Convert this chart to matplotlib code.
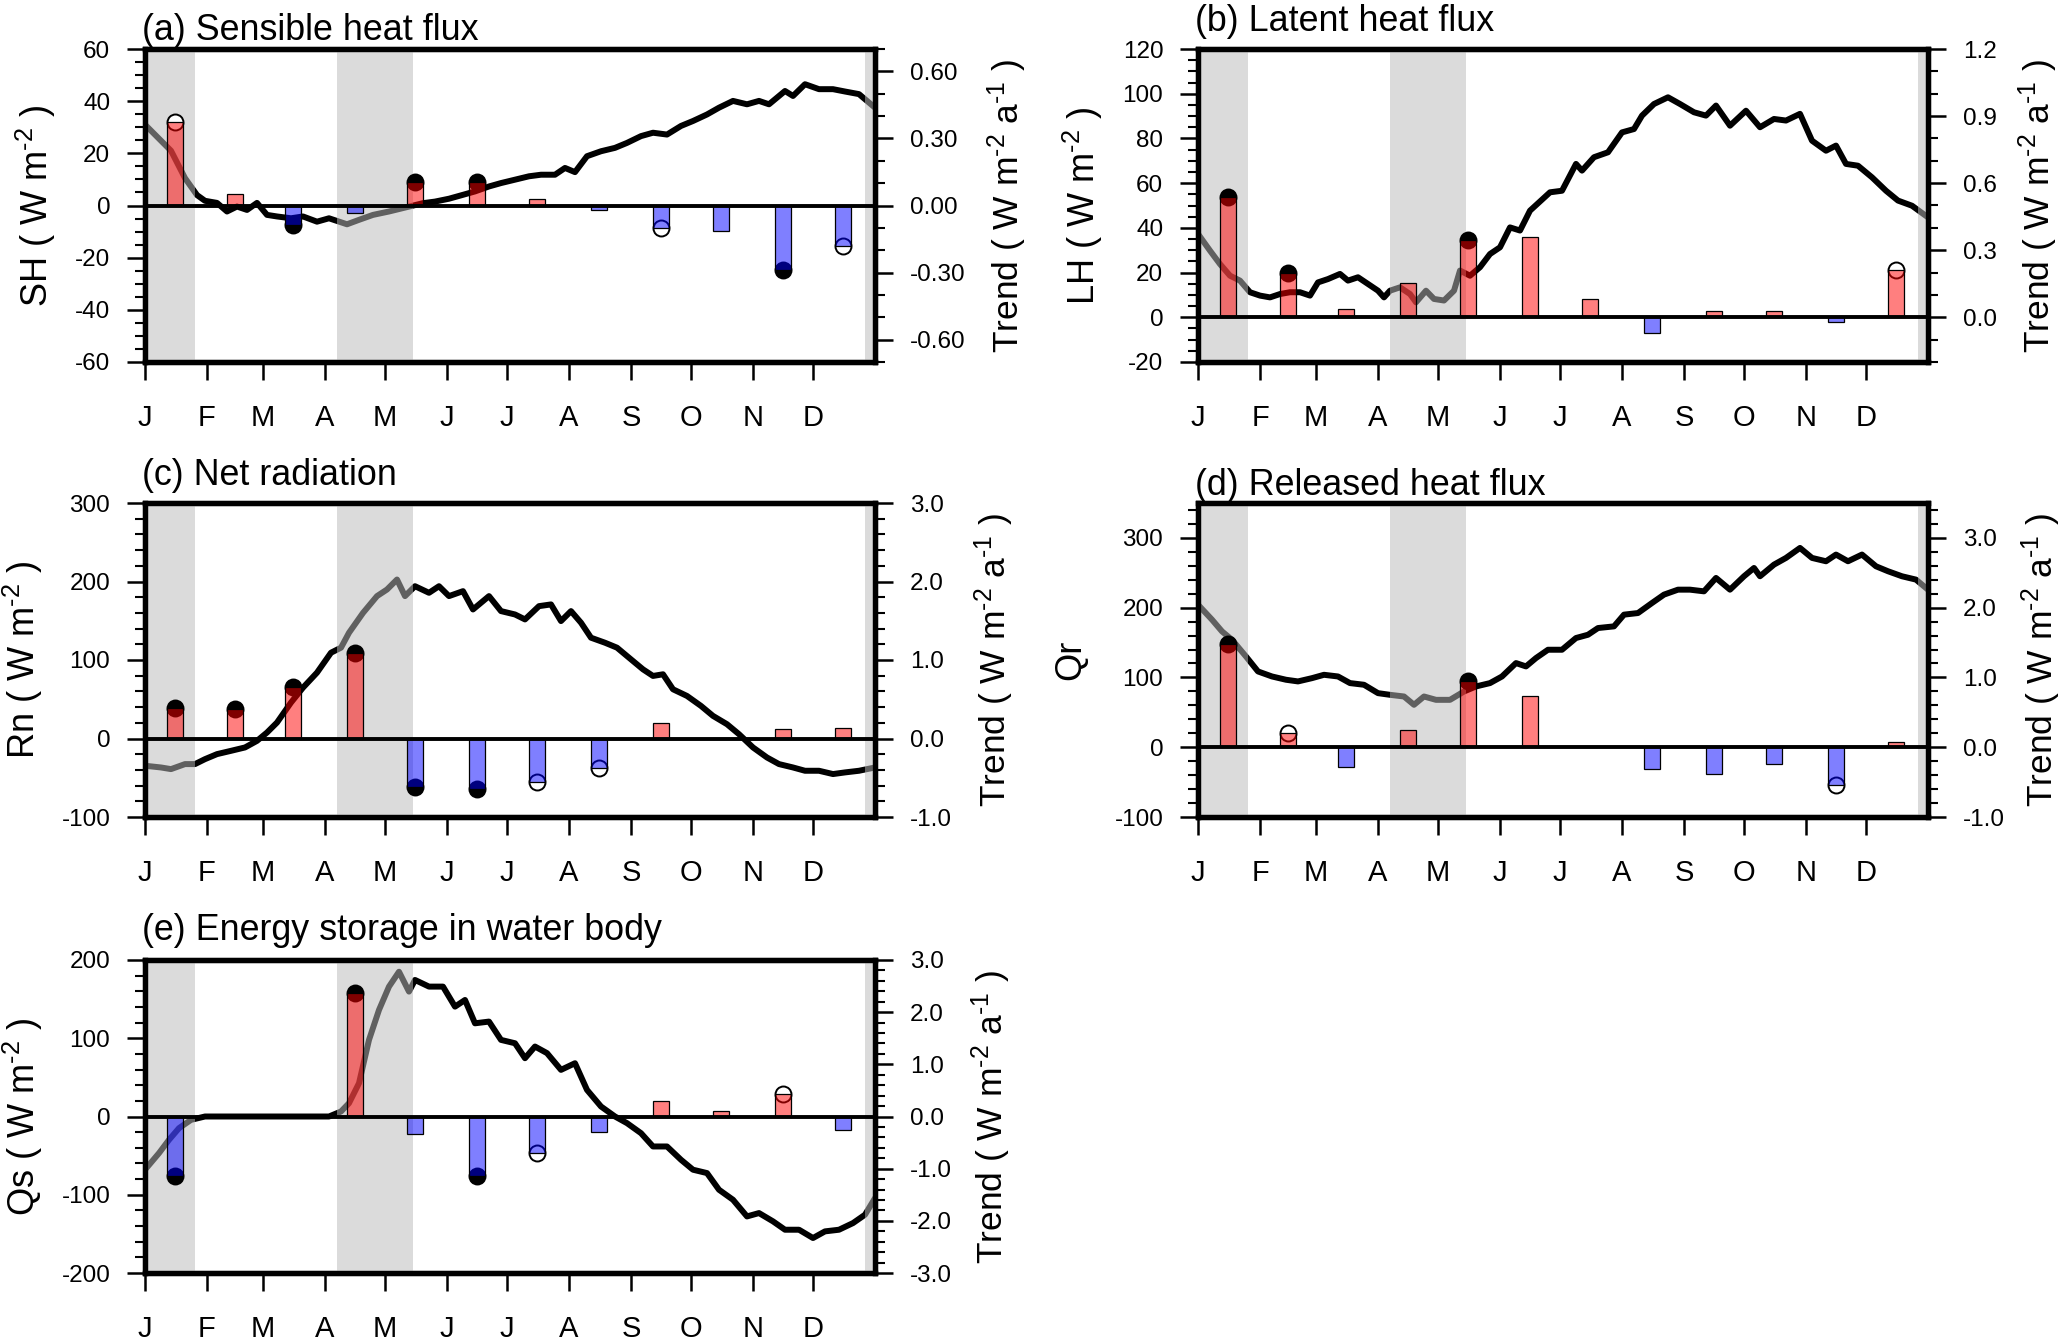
import numpy as np
import matplotlib
matplotlib.use('Agg')
import matplotlib.pyplot as plt
from matplotlib.ticker import MultipleLocator, FuncFormatter

plt.rcParams['font.family'] = ['Liberation Sans', 'DejaVu Sans']
plt.rcParams['mathtext.fontset'] = 'custom'
plt.rcParams['mathtext.rm'] = 'Liberation Sans'
plt.rcParams['mathtext.default'] = 'regular'
plt.rcParams['axes.unicode_minus'] = False

FIG_W, FIG_H = 2067, 1340

# x axis: months (day of year)
months = ['J', 'F', 'M', 'A', 'M', 'J', 'J', 'A', 'S', 'O', 'N', 'D']
month_start = [0, 31, 59, 90, 120, 151, 181, 212, 243, 273, 304, 334]
bar_day = [15, 45, 74, 105, 135, 166, 196, 227, 258, 288, 319, 349]

# shaded (ice) periods, day of year
shade_periods = [(0, 25), (96, 134), (360, 365)]

# (a) sensible heat flux: daily climatology (W m-2), monthly trend (W m-2 a-1)
sh_day = [0, 13, 20, 26, 30, 36, 41, 46, 51, 56, 61, 66, 73, 79, 86, 92, 101, 107, 114, 122,
          130, 139, 145, 152, 159, 165, 172, 178, 185, 192, 198, 205, 210, 215, 221, 228, 235,
          241, 248, 254, 261, 268, 274, 281, 287, 294, 301, 307, 312, 320, 324, 330, 337, 344,
          350, 357, 365]
sh_clim = [31, 21, 10.5, 4, 1.8, 1, -2.3, -0.4, -1.7, 1, -3.6, -4.2, -4.9, -4.2, -6.2, -4.9,
           -7.2, -5.5, -3.6, -2.3, -0.8, 0.9, 1.5, 2.6, 4.1, 5.4, 7.3, 8.6, 9.9, 11.2, 11.8, 11.8,
           14.4, 12.8, 18.9, 20.8, 22.1, 24, 26.6, 27.9, 27.2, 30.5, 32.4, 34.9, 37.5, 40.1, 38.8,
           40.1, 38.8, 43.9, 42, 46.5, 44.6, 44.6, 43.7, 42.7, 37.5]
sh_trend = [0.375, 0.05, -0.085, -0.035, 0.105, 0.105, 0.03, -0.02, -0.10, -0.115, -0.29, -0.18]
sh_sig = [1, 0, 2, 0, 2, 2, 0, 0, 1, 0, 2, 1]

# (b) latent heat flux
lh_day = [0, 6, 11, 16, 21, 26, 31, 36, 41, 46, 51, 56, 60, 65, 71, 75, 80, 85, 90, 93, 96,
          101, 106, 109, 114, 118, 123, 128, 131, 136, 141, 146, 151, 156, 161, 166, 176, 182,
          189, 192, 198, 205, 212, 218, 222, 228, 235, 241, 248, 254, 259, 266, 274, 281, 288,
          294, 301, 307, 314, 319, 324, 330, 337, 344, 350, 357, 365]
lh_clim = [37.3, 29.8, 23.8, 18.6, 16.4, 11.2, 9.7, 8.9, 10.4, 11.2, 11.2, 9.7, 15.6, 17.1,
           19.4, 16.4, 17.9, 14.9, 11.9, 8.9, 11.9, 13.4, 10.4, 6.7, 11.9, 8.2, 7.5, 11.9, 20.9,
           18.6, 22.4, 28.3, 31.3, 40.2, 38.8, 47.7, 55.9, 56.6, 68.6, 65.6, 71.6, 73.8, 82.7,
           84.2, 90.2, 95.4, 98.4, 95.4, 91.7, 90.2, 94.7, 85.7, 92.4, 85, 88.7, 88, 91, 79,
           74.5, 76.8, 68.6, 67.8, 62.6, 56.6, 52.2, 49.9, 44.7]
lh_trend = [0.54, 0.20, 0.035, 0.155, 0.345, 0.36, 0.08, -0.07, 0.03, 0.03, -0.02, 0.21]
lh_sig = [2, 2, 0, 0, 2, 0, 0, 0, 0, 0, 0, 1]

# (c) net radiation
rn_day = [0, 8, 13, 20, 25, 30, 36, 43, 50, 56, 61, 66, 73, 79, 86, 93, 98, 102, 109, 116,
          121, 126, 130, 135, 142, 147, 152, 159, 164, 172, 178, 185, 190, 197, 203, 208, 213,
          218, 223, 230, 236, 243, 249, 254, 259, 264, 271, 278, 284, 291, 297, 304, 311, 317,
          324, 330, 337, 344, 350, 357, 365]
rn_clim = [-34.7, -36.9, -39, -32.6, -32.6, -26.3, -19.9, -15.7, -11.4, -3, 7.6, 20.3, 45.8,
           64.8, 83.9, 109.3, 115.7, 134.7, 160, 181.4, 189.8, 202.5, 181.4, 194, 185.6, 194,
           181.4, 187.7, 164.4, 181.4, 162.3, 158, 151.7, 168.6, 170.8, 149.6, 162.3, 147.5,
           128.4, 122, 115.7, 100.8, 88.1, 79.7, 81.8, 62.7, 54.2, 41.5, 28.8, 18.2, 5.5, -11.4,
           -24.2, -32.6, -36.9, -41.1, -41.1, -45.3, -43.2, -41.1, -36.9]
rn_trend = [0.39, 0.38, 0.65, 1.09, -0.62, -0.64, -0.55, -0.37, 0.20, 0.01, 0.12, 0.13]
rn_sig = [2, 2, 2, 2, 2, 2, 1, 1, 0, 0, 0, 0]

# (d) released heat flux
qr_day = [0, 7, 12, 17, 24, 30, 37, 44, 50, 57, 63, 70, 76, 83, 90, 96, 103, 108, 113, 119,
          126, 133, 139, 146, 152, 159, 164, 169, 175, 182, 189, 195, 200, 208, 213, 220, 227,
          233, 240, 246, 253, 259, 266, 273, 278, 281, 288, 294, 301, 307, 314, 319, 325, 332,
          339, 345, 352, 359, 365]
qr_clim = [204.3, 182.8, 166, 154, 130, 108.6, 101.4, 96.7, 94.3, 99, 103.8, 101.4, 91.9, 89.5,
           77.5, 75.1, 72.7, 60.8, 72.7, 67.9, 67.9, 79.9, 87.1, 91.9, 101.4, 120.6, 115.8,
           127.8, 139.7, 139.7, 156.5, 161.2, 170.8, 173.2, 190, 192.3, 206.7, 218.7, 225.8,
           225.8, 223.4, 242.6, 225.8, 245, 256.9, 245, 261.7, 271.3, 285.6, 271.3, 266.5,
           276.1, 266.5, 276.1, 259.3, 252.2, 245, 240.2, 225.8]
qr_trend = [1.48, 0.20, -0.29, 0.24, 0.95, 0.74, 0.01, -0.31, -0.38, -0.24, -0.54, 0.07]
qr_sig = [2, 1, 0, 0, 2, 0, 0, 0, 0, 0, 1, 0]

# (e) energy storage in water body
qs_day = [0, 7, 12, 17, 23, 30, 60, 92, 98, 102, 107, 112, 117, 122, 127, 132, 135, 142, 149,
          155, 160, 165, 172, 178, 185, 190, 195, 201, 208, 215, 221, 228, 235, 241, 248, 254,
          261, 268, 274, 281, 287, 294, 301, 307, 314, 320, 327, 334, 340, 347, 354, 360, 365]
qs_clim = [-68, -46.8, -29.8, -14.9, -4.3, 0, 0, 0, 6.4, 17, 42.6, 97.9, 136.2, 166, 185, 159.6,
           174.5, 166, 166, 140.4, 148.9, 119.1, 121.3, 97.9, 93.6, 74.5, 89.4, 81, 59.6, 68.1,
           34, 12.8, 0, -8.5, -21.3, -38.3, -38.3, -55.3, -68, -72.3, -93.6, -106.4, -127.7,
           -123.4, -134, -144.7, -144.7, -155.3, -146.8, -144.7, -136.2, -125.5, -104.3]
qs_trend = [-1.15, 0.0, 0.0, 2.37, -0.33, -1.15, -0.70, -0.29, 0.29, 0.115, 0.43, -0.26]
qs_sig = [2, 0, 0, 2, 0, 2, 1, 0, 0, 0, 1, 0]

WM2 = r' ( W m$^{\text{-}2}$ )'
TREND_LABEL = r'Trend ( W m$^{\text{-}2}$ a$^{\text{-}1}$ )'

# box = (left, top, right, bottom) in pixels
panels = [
    dict(title='(a) Sensible heat flux', ylabel='SH' + WM2, day=sh_day, clim=sh_clim,
         trend=sh_trend, sig=sh_sig, box=(145, 49, 875, 362), ylim=(-60, 60), ystep=20,
         yminor=5, rlim=(-0.7, 0.7), rticks=(-0.6, 0.6, 0.3), rminor=0.1, rfmt='%.2f',
         title_off=9, lab_x=58, rlab_x=986),
    dict(title='(b) Latent heat flux', ylabel='LH' + WM2, day=lh_day, clim=lh_clim,
         trend=lh_trend, sig=lh_sig, box=(1198, 49, 1928, 362), ylim=(-20, 120), ystep=20,
         yminor=5, rlim=(-0.2, 1.2), rticks=(0.0, 1.2, 0.3), rminor=0.1, rfmt='%.1f',
         title_off=18, lab_x=1105, rlab_x=2017),
    dict(title='(c) Net radiation', ylabel='Rn' + WM2, day=rn_day, clim=rn_clim,
         trend=rn_trend, sig=rn_sig, box=(145, 503, 875, 817), ylim=(-100, 300), ystep=100,
         yminor=20, rlim=(-1.0, 3.0), rticks=(-1.0, 3.0, 1.0), rminor=0.2, rfmt='%.1f',
         title_off=18, lab_x=45, rlab_x=973),
    dict(title='(d) Released heat flux', ylabel='Qr', day=qr_day, clim=qr_clim,
         trend=qr_trend, sig=qr_sig, box=(1198, 503, 1928, 817), ylim=(-100, 350), ystep=100,
         yminor=20, rlim=(-1.0, 3.5), rticks=(-1.0, 3.0, 1.0), rminor=0.2, rfmt='%.1f',
         title_off=8, lab_x=1088, rlab_x=2020),
    dict(title='(e) Energy storage in water body', ylabel='Qs' + WM2, day=qs_day, clim=qs_clim,
         trend=qs_trend, sig=qs_sig, box=(145, 960, 875, 1273), ylim=(-200, 200), ystep=100,
         yminor=20, rlim=(-3.0, 3.0), rticks=(-3.0, 3.0, 1.0), rminor=0.2, rfmt='%.1f',
         title_off=20, lab_x=45, rlab_x=970),
]

fig = plt.figure(figsize=(FIG_W / 100, FIG_H / 100), dpi=100)

for p in panels:
    l, t, r, b = p['box']
    w, h = r - l, b - t
    ax = fig.add_axes([l / FIG_W, 1 - b / FIG_H, w / FIG_W, h / FIG_H])
    ax2 = ax.twinx()

    # climatology line, then translucent shading over it
    ax.plot(p['day'], p['clim'], color='black', lw=4.3, zorder=2,
            solid_joinstyle='round', solid_capstyle='round')
    for s0, s1 in shade_periods:
        ax.axvspan(s0, s1, color=(0.73, 0.73, 0.73), alpha=0.52, lw=0, zorder=3)
    ax.set_xlim(0, 365)
    ax.set_ylim(*p['ylim'])

    # trend bars with significance circles underneath
    trend = np.array(p['trend'])
    sig = np.array(p['sig'])
    xb = np.array(bar_day)
    for lev, fc in ((2, 'black'), (1, 'white')):
        m = sig == lev
        ax2.plot(xb[m], trend[m], 'o', ms=11.5, mfc=fc, mec='black', mew=1.4, zorder=1)
    colors = [(1, 0, 0, 0.5) if v >= 0 else (0, 0, 1, 0.5) for v in trend]
    ax2.bar(xb, trend, width=8, color=colors, edgecolor='black', lw=0.9, zorder=2)
    ax2.axhline(0, color='black', lw=2.8, zorder=3)
    ax2.set_ylim(*p['rlim'])

    # axes decoration
    ax.set_xticks(month_start)
    ax.set_xticklabels(months)
    ax.yaxis.set_major_locator(MultipleLocator(p['ystep']))
    ax.yaxis.set_minor_locator(MultipleLocator(p['yminor']))
    ax.yaxis.set_major_formatter(FuncFormatter(lambda v, pos: '%d' % round(v)))
    r0, r1, rs = p['rticks']
    rt = np.round(np.arange(r0, r1 + rs / 2, rs), 6)
    ax2.set_yticks(rt)
    ax2.set_yticklabels([p['rfmt'] % (0.0 if abs(v) < 1e-9 else v) for v in rt])
    ax2.yaxis.set_minor_locator(MultipleLocator(p['rminor']))

    ax.tick_params(axis='x', direction='out', length=13, width=1.8, labelsize=21, pad=17)
    ax.tick_params(axis='y', which='major', direction='out', length=13, width=1.8,
                   labelsize=17.5, pad=12)
    ax.tick_params(axis='y', which='minor', direction='out', length=7, width=1.5)
    ax2.tick_params(axis='y', which='major', direction='out', length=13, width=1.8,
                    labelsize=17.5, pad=12)
    ax2.tick_params(axis='y', which='minor', direction='out', length=7, width=1.5)
    for a in (ax, ax2):
        for s in a.spines.values():
            s.set_linewidth(3.8)

    ax.set_ylabel(p['ylabel'], fontsize=26)
    ax.yaxis.set_label_coords((p['lab_x'] - l) / w, 0.5)
    ax2.set_ylabel(TREND_LABEL, fontsize=25.5)
    ax2.yaxis.set_label_coords((p['rlab_x'] - l) / w, 0.5)

    ax.text(-0.004, 1 + p['title_off'] / h, p['title'], transform=ax.transAxes,
            ha='left', va='baseline', fontsize=25.8)

fig.savefig('out.png', dpi=100)
